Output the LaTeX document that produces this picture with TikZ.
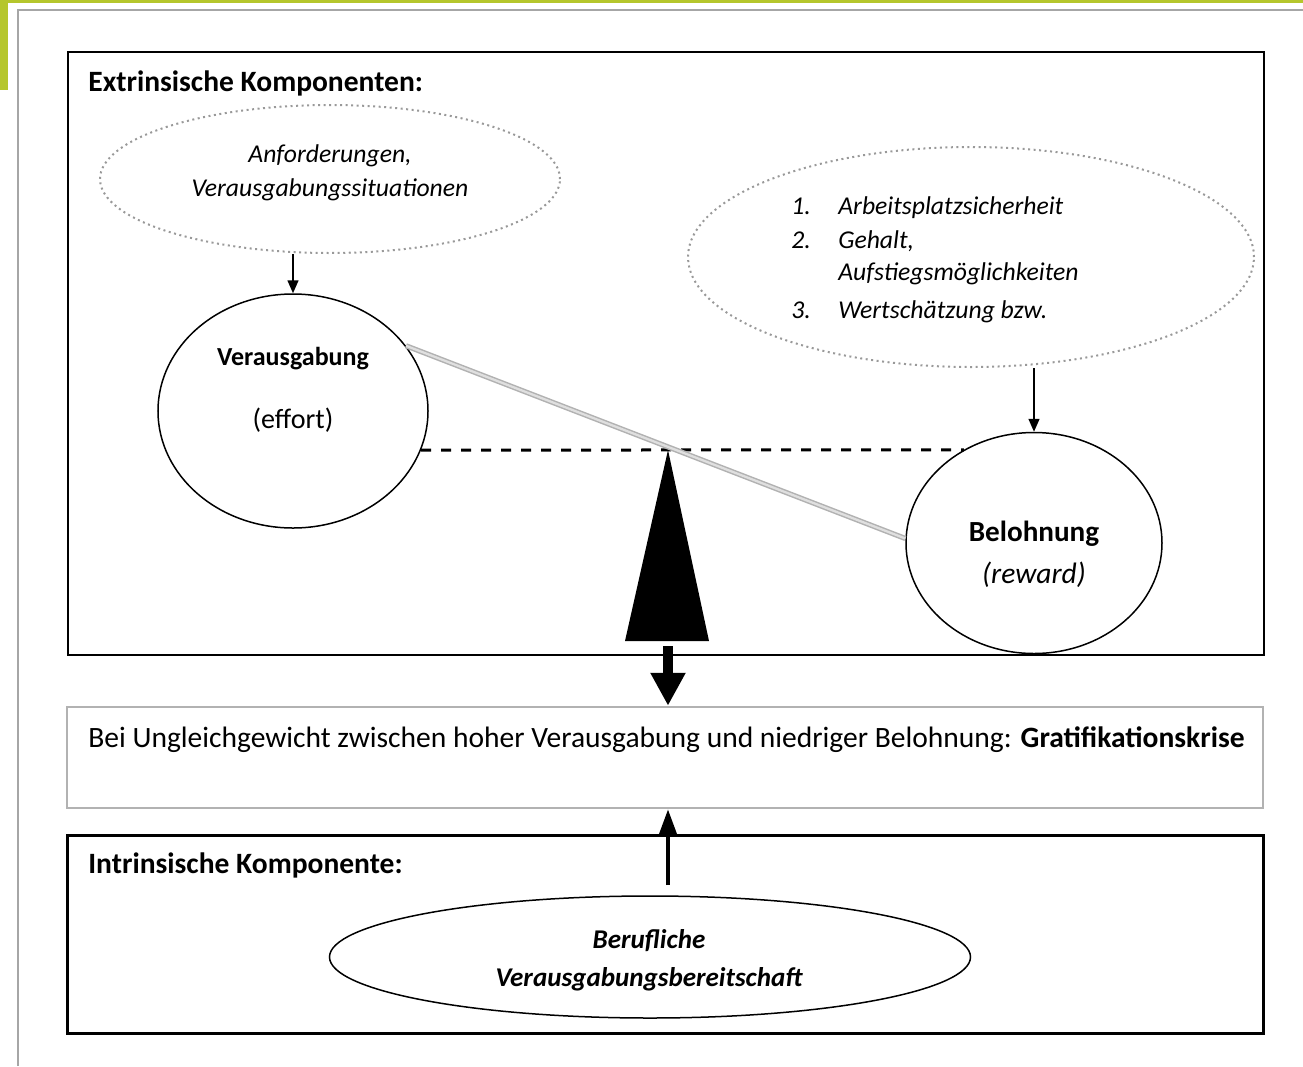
\documentclass[tikz,border=0pt]{standalone}
\usepackage{fontspec}
\setmainfont{Carlito}
\usepackage{xcolor}
\usepackage{tikz}
\usetikzlibrary{arrows.meta,positioning,shapes.geometric}

\definecolor{gruen}{HTML}{B5C62C}

\begin{document}
\begin{tikzpicture}[x=0.2mm, y=-0.2mm,
  rahmen/.style={draw=gray!70, line width=0.4mm},
  oval/.style={ellipse, draw, inner sep=0pt, line width=0.3mm},
  punkt/.style={ellipse, draw=gray!80, dotted, inner sep=0pt, line width=0.4mm},
  pfeil/.style={-{Triangle[width=2.2mm,length=2.6mm]}, line width=0.3mm},
  titel/.style={anchor=base west, inner sep=0pt, font=\fontsize{16.8}{20}\selectfont\bfseries},
  kursiv/.style={anchor=base, inner sep=0pt, font=\fontsize{14.6}{17}\selectfont\itshape},
  liste/.style={anchor=base west, inner sep=0pt, font=\fontsize{14.6}{17}\selectfont\itshape},
  kreis/.style={anchor=base, inner sep=0pt, font=\fontsize{16}{19}\selectfont}]
\useasboundingbox (0,0) rectangle (1303,1066);

\fill[gruen] (0,0) rectangle (1303,3);
\fill[gruen] (0,0) rectangle (8,90);
\draw[rahmen] (18,1066) -- (18,10) -- (1303,10);

\draw[line width=0.45mm] (68,52) rectangle (1264,655);
\node[draw=gray!60, line width=0.5mm, inner sep=0pt, minimum width=239.2mm, minimum height=20.2mm] (krise) at (665,757.5) {};
\draw[line width=0.6mm] (67,835) rectangle (1263,1033);

\node[titel] (extr) at (88,91) {Extrinsische Komponenten:};
\node[titel] (intr) at (88,873) {Intrinsische Komponente:};
\node[anchor=base west, inner sep=0pt, font=\fontsize{16.8}{20}\selectfont] (krisetext) at (88,747) {Bei Ungleichgewicht zwischen hoher Verausgabung und niedriger Belohnung: \textbf{Gratifikationskrise}};

\node[punkt, minimum width=92mm, minimum height=29.6mm] (anf) at (330,179) {};
\node[kursiv] (anf1) at (330,162) {Anforderungen,};
\node[kursiv] (anf2) at (330,196) {Verausgabungssituationen};

\node[punkt, minimum width=113.2mm, minimum height=44mm] (lohn) at (971,257) {};
\node[liste] (nr1) at (791,214) {1.};
\node[liste] (lohn1) at (838,214) {Arbeitsplatzsicherheit};
\node[liste] (nr2) at (791,248) {2.};
\node[liste] (lohn2) at (838,248) {Gehalt,};
\node[liste] (lohn3) at (838,280) {Aufstiegsmöglichkeiten};
\node[liste] (nr3) at (791,318) {3.};
\node[liste] (lohn4) at (838,318) {Wertschätzung bzw.};

\node[oval, minimum width=54mm, minimum height=46.8mm] (verg) at (293,411) {};
\node[kreis, font=\fontsize{14.8}{18}\selectfont\bfseries] (verg1) at (293,365) {Verausgabung};
\node[kreis] (verg2) at (293,428) {(effort)};

\node[oval, minimum width=51.2mm, minimum height=44.2mm] (bel) at (1034,543) {};
\node[kreis, font=\fontsize{16.6}{19}\selectfont\bfseries] (bel1) at (1034,541) {Belohnung};
\node[kreis, font=\fontsize{16.8}{19}\selectfont\itshape] (bel2) at (1034,583) {(reward)};

\node[oval, minimum width=128.2mm, minimum height=24.4mm] (beruf) at (650,957) {};
\node[kreis, font=\fontsize{15.4}{18}\selectfont\bfseries\itshape] (beruf1) at (649,948) {Berufliche};
\node[kreis, font=\fontsize{15.4}{18}\selectfont\bfseries\itshape] (beruf2) at (649,986) {Verausgabungsbereitschaft};

\coordinate (kipp) at (668,450);
\coordinate (fuss) at (668,646);
\coordinate (quelle) at (668,885);

\draw[line width=0.6mm, dash pattern=on 2mm off 2mm] (verg.-17) -- (bel.127);
\fill (kipp) -- (709,641) -- (625,641) -- cycle;
\draw[draw=gray!60, double=gray!25, double distance=0.45mm, line width=0.3mm] (verg.30) -- (bel.178);

\draw[pfeil] (verg.north |- anf.south) -- (verg.north);
\draw[pfeil] (bel.north |- lohn.south) -- (bel.north);
\draw[-{Triangle[width=6.6mm,length=6.6mm]}, line width=2mm] (fuss) -- (fuss |- krise.north);
\draw[-{Triangle[width=3.4mm,length=5mm]}, line width=0.8mm] (quelle) -- (quelle |- krise.south);
\end{tikzpicture}
\end{document}
